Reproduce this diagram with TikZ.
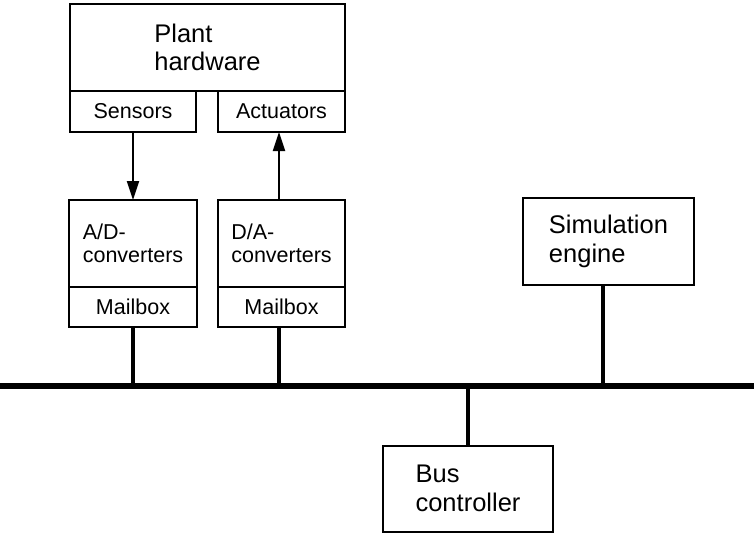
\documentclass[tikz,border=0pt]{standalone}
\usepackage{fontspec}
\setmainfont{Liberation Sans}
\usetikzlibrary{arrows.meta}
\tikzset{
  box/.style={draw, line width=2pt, inner sep=0pt, outer sep=0pt, anchor=north west, align=left},
  big/.style={font=\fontsize{25.5}{28.5}\selectfont},
  small/.style={font=\fontsize{21.5}{23.5}\selectfont},
  conn/.style={line width=4pt},
  busline/.style={line width=6pt},
  sig/.style={line width=2pt, -{Triangle[length=19pt,width=12pt]}}
}
\begin{document}
\begin{tikzpicture}[x=1pt,y=-1pt]
\useasboundingbox (0,0) rectangle (754,533);
% boxes
\node[box,big,minimum width=275pt,minimum height=87pt] (plant) at (70,4) {Plant\\hardware};
\node[box,small,minimum width=126pt,minimum height=41pt] (sens) at (70,91) {Sensors};
\node[box,small,minimum width=127pt,minimum height=41pt] (act) at (218,91) {Actuators};
\node[box,small,minimum width=128pt,minimum height=87pt] (ad) at (69,200) {A/D-\\converters};
\node[box,small,minimum width=128pt,minimum height=40pt] (mb1) at (69,287) {Mailbox};
\node[box,small,minimum width=127pt,minimum height=87pt] (da) at (218,200) {D/A-\\converters};
\node[box,small,minimum width=127pt,minimum height=40pt] (mb2) at (218,287) {Mailbox};
\node[box,big,minimum width=171pt,minimum height=87pt] (sim) at (523,198) {Simulation\\engine};
\node[box,big,minimum width=170pt,minimum height=86pt] (bc) at (383,445.5) {Bus\\controller};
% bus
\coordinate (busL) at (0,386);
\coordinate (busR) at (754,386);
\draw[busline] (busL) -- (busR);
% connectors
\draw[sig] (133,0 |- sens.south) -- (133,0 |- ad.north);
\draw[sig] (279,0 |- da.north) -- (279,0 |- act.south);
\draw[conn] (133,0 |- mb1.south) -- (133,0 |- busL);
\draw[conn] (279,0 |- mb2.south) -- (279,0 |- busL);
\draw[conn] (603,0 |- sim.south) -- (603,0 |- busL);
\draw[conn] (bc.north |- busL) -- (bc.north);
\end{tikzpicture}
\end{document}
